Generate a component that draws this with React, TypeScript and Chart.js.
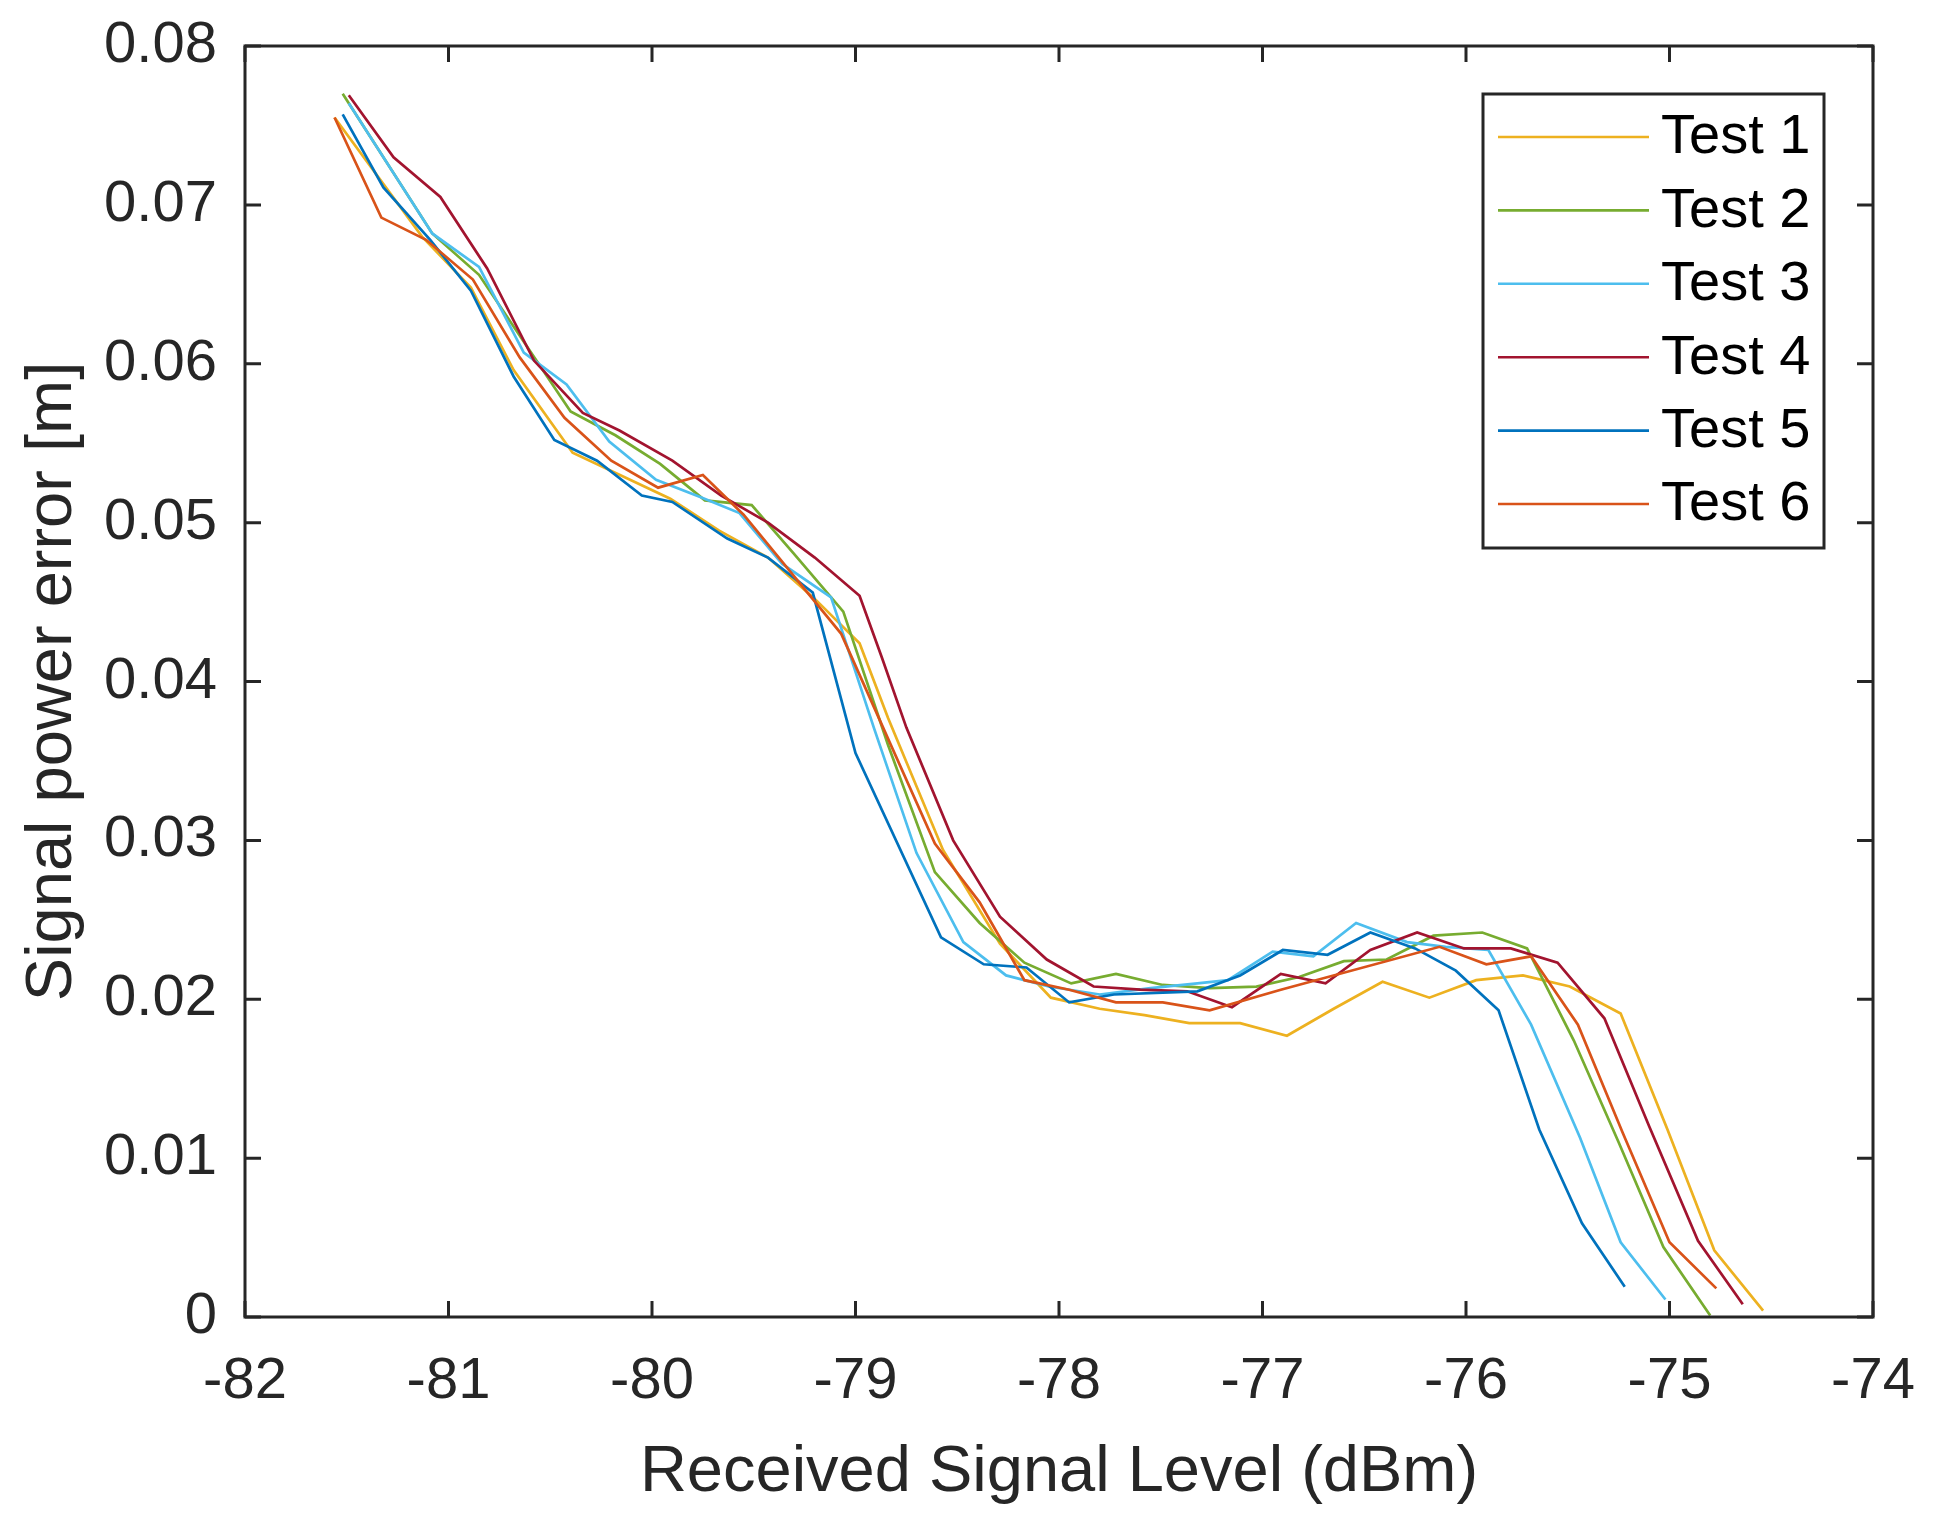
import { useEffect, useRef } from "react";
import Chart from "chart.js/auto";

type Pt = [number, number];

const FONT = "'Liberation Sans', Arial, Helvetica, sans-serif";
const AXIS_COLOR = "#262626";

const seriesLabels = ["Test 1", "Test 2", "Test 3", "Test 4", "Test 5", "Test 6"];
const seriesColors = ["#EDB120", "#77AC30", "#4DBEEE", "#A2142F", "#0072BD", "#D95319"];

// [received signal level (dBm), error (m)]
const test1: Pt[] = [
  [-81.56, 0.0755], [-81.13, 0.068], [-80.89, 0.0648], [-80.68, 0.0596], [-80.39, 0.0544],
  [-79.91, 0.0515], [-79.67, 0.0495], [-79.43, 0.0478], [-79.2, 0.0452], [-78.98, 0.0424],
  [-78.84, 0.0377], [-78.57, 0.0294], [-78.29, 0.0235], [-78.04, 0.0201], [-77.8, 0.0194],
  [-77.58, 0.019], [-77.36, 0.0185], [-77.11, 0.0185], [-76.88, 0.0177], [-76.65, 0.0194],
  [-76.41, 0.0211], [-76.18, 0.0201], [-75.95, 0.0212], [-75.72, 0.0215], [-75.49, 0.0208],
  [-75.24, 0.0191], [-75.01, 0.0118], [-74.78, 0.0042], [-74.54, 0.0004],
];
const test2: Pt[] = [
  [-81.52, 0.077], [-81.08, 0.0682], [-80.85, 0.0656], [-80.62, 0.0612], [-80.4, 0.057],
  [-80.18, 0.0555], [-79.96, 0.0537], [-79.74, 0.0514], [-79.51, 0.0511], [-79.3, 0.048],
  [-79.06, 0.0444], [-78.84, 0.036], [-78.61, 0.028], [-78.39, 0.0248], [-78.17, 0.0223],
  [-77.94, 0.021], [-77.72, 0.0216], [-77.49, 0.0209], [-77.26, 0.0207], [-77.03, 0.0208],
  [-76.82, 0.0214], [-76.6, 0.0224], [-76.39, 0.0225], [-76.16, 0.024], [-75.92, 0.0242],
  [-75.7, 0.0232], [-75.47, 0.0174], [-75.25, 0.011], [-75.03, 0.0044], [-74.8, 0.0001],
];
const test3: Pt[] = [
  [-81.49, 0.0764], [-81.08, 0.0682], [-80.85, 0.0661], [-80.63, 0.0607], [-80.42, 0.0587],
  [-80.21, 0.0551], [-79.98, 0.0527], [-79.76, 0.0516], [-79.57, 0.0506], [-79.36, 0.0474],
  [-79.12, 0.0453], [-78.91, 0.0371], [-78.7, 0.0292], [-78.47, 0.0236], [-78.26, 0.0215],
  [-78.05, 0.0208], [-77.8, 0.0203], [-77.55, 0.0207], [-77.32, 0.021], [-77.17, 0.0212],
  [-76.95, 0.023], [-76.75, 0.0227], [-76.54, 0.0248], [-76.29, 0.0236], [-76.1, 0.0233],
  [-75.89, 0.0231], [-75.68, 0.0184], [-75.44, 0.0113], [-75.24, 0.0047], [-75.02, 0.0011],
];
const test4: Pt[] = [
  [-81.49, 0.0769], [-81.27, 0.073], [-81.04, 0.0705], [-80.81, 0.066], [-80.58, 0.0602],
  [-80.34, 0.0569], [-80.16, 0.0558], [-79.9, 0.0539], [-79.66, 0.0517], [-79.43, 0.05],
  [-79.2, 0.0478], [-78.98, 0.0454], [-78.87, 0.0415], [-78.75, 0.0371], [-78.52, 0.03],
  [-78.29, 0.0252], [-78.06, 0.0225], [-77.83, 0.0208], [-77.6, 0.0206], [-77.37, 0.0205],
  [-77.15, 0.0195], [-76.91, 0.0216], [-76.69, 0.021], [-76.47, 0.0231], [-76.24, 0.0242],
  [-76.01, 0.0232], [-75.78, 0.0232], [-75.55, 0.0223], [-75.32, 0.0188], [-75.1, 0.012],
  [-74.86, 0.0048], [-74.64, 0.0008],
];
const test5: Pt[] = [
  [-81.52, 0.0757], [-81.32, 0.0711], [-81.09, 0.0678], [-80.89, 0.0646], [-80.68, 0.0592],
  [-80.48, 0.0552], [-80.27, 0.0539], [-80.05, 0.0517], [-79.9, 0.0513], [-79.63, 0.049],
  [-79.43, 0.0478], [-79.21, 0.0456], [-79.0, 0.0355], [-78.58, 0.0239], [-78.37, 0.0222],
  [-78.16, 0.022], [-77.95, 0.0198], [-77.73, 0.0203], [-77.32, 0.0205], [-77.11, 0.0215],
  [-76.9, 0.0231], [-76.68, 0.0228], [-76.47, 0.0242], [-76.25, 0.0232], [-76.05, 0.0218],
  [-75.84, 0.0193], [-75.64, 0.0118], [-75.43, 0.0059], [-75.22, 0.0019],
];
const test6: Pt[] = [
  [-81.56, 0.0755], [-81.33, 0.0692], [-81.11, 0.0678], [-80.88, 0.0653], [-80.65, 0.0604],
  [-80.43, 0.0566], [-80.2, 0.0539], [-79.97, 0.0522], [-79.75, 0.053], [-79.55, 0.0505],
  [-79.07, 0.043], [-78.61, 0.0298], [-78.39, 0.0261], [-78.17, 0.0212], [-77.95, 0.0206],
  [-77.72, 0.0198], [-77.49, 0.0198], [-77.26, 0.0193], [-76.91, 0.0206], [-76.13, 0.0233],
  [-75.9, 0.0222], [-75.68, 0.0227], [-75.45, 0.0184], [-75.23, 0.0116], [-75.0, 0.0047],
  [-74.77, 0.0018],
];

const allSeries = [test1, test2, test3, test4, test5, test6];

const xTicks = [-82, -81, -80, -79, -78, -77, -76, -75, -74];
const yTicks = [0, 0.01, 0.02, 0.03, 0.04, 0.05, 0.06, 0.07, 0.08];

// draws the axes box, inward ticks on all sides and the boxed legend
const framePlugin = {
  id: "frame",
  afterDatasetsDraw(chart: any) {
    const { ctx, chartArea: a, scales } = chart;
    ctx.save();
    ctx.strokeStyle = AXIS_COLOR;
    ctx.lineWidth = 3;
    ctx.lineCap = "butt";
    ctx.strokeRect(a.left, a.top, a.right - a.left, a.bottom - a.top);

    const tick = 16;
    ctx.beginPath();
    for (const v of xTicks) {
      const px = scales.x.getPixelForValue(v);
      ctx.moveTo(px, a.bottom);
      ctx.lineTo(px, a.bottom - tick);
      ctx.moveTo(px, a.top);
      ctx.lineTo(px, a.top + tick);
    }
    for (const v of yTicks) {
      const py = scales.y.getPixelForValue(v);
      ctx.moveTo(a.left, py);
      ctx.lineTo(a.left + tick, py);
      ctx.moveTo(a.right, py);
      ctx.lineTo(a.right - tick, py);
    }
    ctx.stroke();

    // legend
    const boxL = a.right - 390;
    const boxR = a.right - 49;
    const boxT = a.top + 48;
    const boxB = a.top + 502;
    ctx.fillStyle = "#ffffff";
    ctx.fillRect(boxL, boxT, boxR - boxL, boxB - boxT);
    ctx.strokeRect(boxL, boxT, boxR - boxL, boxB - boxT);

    ctx.font = `56px ${FONT}`;
    ctx.textBaseline = "middle";
    ctx.textAlign = "left";
    seriesLabels.forEach((label, i) => {
      const y = boxT + 43 + i * 73.4;
      ctx.strokeStyle = seriesColors[i];
      ctx.lineWidth = 2.6;
      ctx.beginPath();
      ctx.moveTo(boxL + 15, y);
      ctx.lineTo(boxL + 166, y);
      ctx.stroke();
      ctx.fillStyle = "#000000";
      ctx.fillText(label, boxL + 178, y + 1);
    });
    ctx.restore();
  },
};

export default function App() {
  const canvasRef = useRef<HTMLCanvasElement | null>(null);

  useEffect(() => {
    if (!canvasRef.current) return;

    const chart = new Chart(canvasRef.current, {
      type: "line",
      data: {
        datasets: allSeries.map((pts, i) => ({
          label: seriesLabels[i],
          data: pts.map(([x, y]) => ({ x, y })),
          borderColor: seriesColors[i],
          backgroundColor: seriesColors[i],
          borderWidth: 2.7,
          pointRadius: 0,
          tension: 0,
          fill: false,
          order: allSeries.length - i,
        })),
      },
      options: {
        animation: false,
        responsive: false,
        devicePixelRatio: 1,
        layout: { padding: { top: 46, right: 69, left: 0, bottom: 0 } },
        plugins: {
          legend: { display: false },
          tooltip: { enabled: false },
        },
        scales: {
          x: {
            type: "linear",
            min: -82,
            max: -74,
            afterFit: (s: any) => {
              s.height = 208;
            },
            afterBuildTicks: (s: any) => {
              s.ticks = xTicks.map((value) => ({ value }));
            },
            grid: { display: false, drawTicks: false },
            border: { display: false },
            ticks: {
              color: AXIS_COLOR,
              font: { family: FONT, size: 58, lineHeight: 130 / 58 },
              padding: 0,
              maxRotation: 0,
              autoSkip: false,
              callback: (v: any) => String(v),
            },
            title: {
              display: true,
              text: "Received Signal Level (dBm)",
              color: AXIS_COLOR,
              font: { family: FONT, size: 65 },
              padding: { top: 0, bottom: 13 },
            },
          },
          y: {
            type: "linear",
            min: 0,
            max: 0.08,
            afterFit: (s: any) => {
              s.width = 245;
            },
            afterBuildTicks: (s: any) => {
              s.ticks = yTicks.map((value) => ({ value }));
            },
            grid: { display: false, drawTicks: false },
            border: { display: false },
            ticks: {
              color: AXIS_COLOR,
              font: { family: FONT, size: 58, lineHeight: 0.6 },
              padding: 28,
              autoSkip: false,
              callback: (v: any) => (v === 0 ? "0" : Number(v).toFixed(2)),
            },
            title: {
              display: true,
              text: "Signal power error [m]",
              color: AXIS_COLOR,
              font: { family: FONT, size: 65 },
              padding: { top: 14, bottom: 0 },
            },
          },
        },
      },
      plugins: [framePlugin],
    });

    return () => chart.destroy();
  }, []);

  return (
    <div style={{ position: "absolute", left: 0, top: 0, width: 1942, height: 1525, background: "#fff" }}>
      <canvas ref={canvasRef} width={1942} height={1525} style={{ display: "block" }} />
    </div>
  );
}
